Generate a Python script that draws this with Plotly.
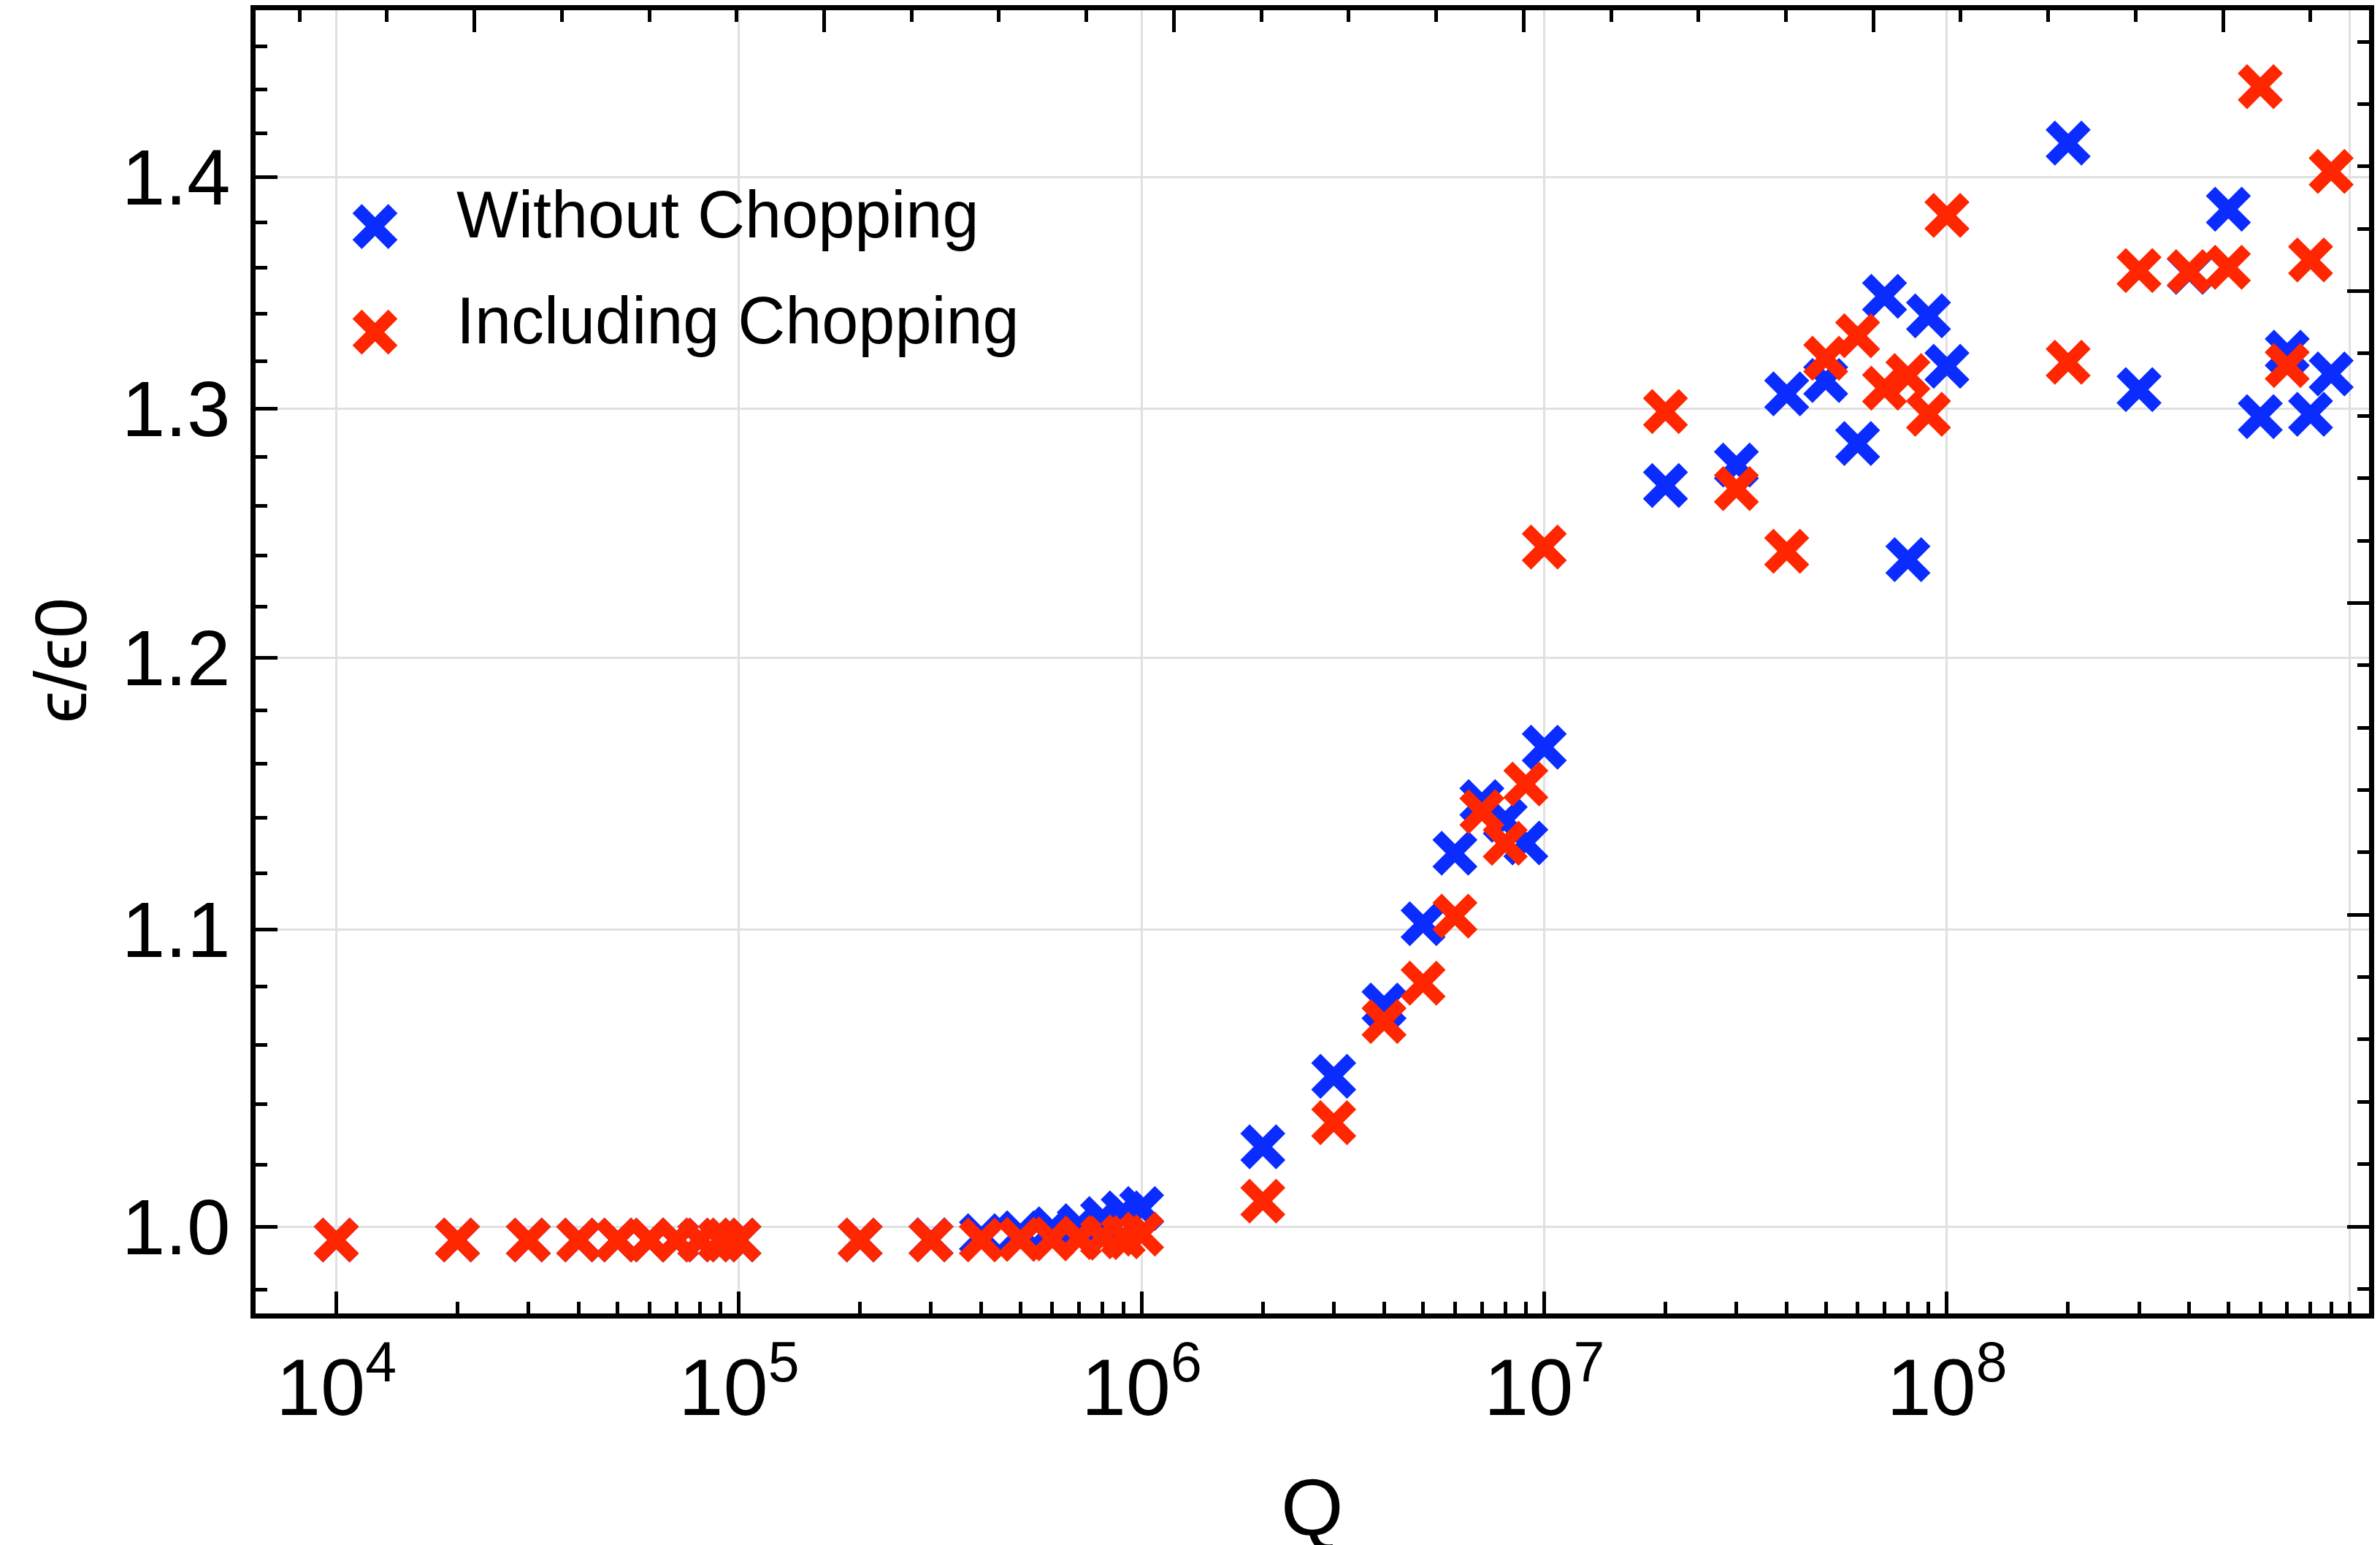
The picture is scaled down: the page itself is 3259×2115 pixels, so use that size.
import math
import plotly.graph_objects as go

# Q values (nine per decade, 1e4 .. 9e8)
q_values = [
    1e4, 2e4, 3e4, 4e4, 5e4, 6e4, 7e4, 8e4, 9e4,
    1e5, 2e5, 3e5, 4e5, 5e5, 6e5, 7e5, 8e5, 9e5,
    1e6, 2e6, 3e6, 4e6, 5e6, 6e6, 7e6, 8e6, 9e6,
    1e7, 2e7, 3e7, 4e7, 5e7, 6e7, 7e7, 8e7, 9e7,
    1e8, 2e8, 3e8, 4e8, 5e8, 6e8, 7e8, 8e8, 9e8,
]

# epsilon / epsilon0 without chopping
eps_without = [
    0.9957, 0.9957, 0.9957, 0.9957, 0.9957, 0.9957, 0.9957, 0.9957, 0.9957,
    0.9957, 0.9957, 0.9958, 0.9971, 0.9980, 0.9993, 1.0003, 1.0026, 1.0044,
    1.0058, 1.0259, 1.0494, 1.0736, 1.1020, 1.1272, 1.1460, 1.1392, 1.1309,
    1.1662, 1.2683, 1.2766, 1.3061, 1.3117, 1.2855, 1.3476, 1.2385, 1.3392,
    1.3177, 1.4155, 1.3079, 1.3580, 1.3858, 1.2966, 1.3237, 1.2976, 1.3145,
]

# epsilon / epsilon0 including chopping
eps_including = [
    0.9957, 0.9957, 0.9957, 0.9957, 0.9957, 0.9957, 0.9957, 0.9957, 0.9957,
    0.9957, 0.9957, 0.9957, 0.9957, 0.9959, 0.9961, 0.9963, 0.9965, 0.9967,
    0.9976, 1.0082, 1.0339, 1.0680, 1.0812, 1.1047, 1.1423, 1.1308, 1.1525,
    1.2435, 1.2987, 1.2670, 1.2418, 1.3211, 1.3307, 1.3085, 1.3138, 1.2976,
    1.3830, 1.3194, 1.3588, 1.3583, 1.3602, 1.4413, 1.3180, 1.3634, 1.4027,
]

series_names = ["Without Chopping", "Including Chopping"]
series_colors = ["#0a2cff", "#ff2600"]

x_tick_vals = [1e4, 1e5, 1e6, 1e7, 1e8]
x_tick_text = ["10<sup>4</sup>", "10<sup>5</sup>", "10<sup>6</sup>",
               "10<sup>7</sup>", "10<sup>8</sup>"]
y_tick_vals = [1.0, 1.1, 1.2, 1.3, 1.4]
y_tick_text = ["1.0", "1.1", "1.2", "1.3", "1.4"]
x_grid_decades = [4, 5, 6, 7, 8, 9]

# axis ranges (log10 units)
x_log_range = [3.7996, 9.0483]
y_log_range = [-0.012097, 0.16941]
LN10 = math.log(10)

FONT = "Liberation Sans, Arial, Helvetica, sans-serif"
W, H = 3259, 2115
M_L, M_R, M_T, M_B = 350, 15, 14, 317
FRAME_W = 7
MAJOR_LEN, MINOR_LEN, TICK_W = 30, 16, 5

x_minor = [m * 10 ** d for d in range(4, 9) for m in range(2, 10)] + [1e9]
y_minor = [round(0.98 + 0.02 * i, 2) for i in range(25)]
y_minor = [v for v in y_minor if v not in y_tick_vals]

marker_common = dict(symbol="x-thin", size=49)
MARKER_LW = 18

fig = go.Figure()

for name, vals, col in zip(series_names, [eps_without, eps_including], series_colors):
    fig.add_trace(go.Scatter(
        x=q_values, y=vals, mode="markers", name=name, showlegend=False,
        marker=dict(color=col, line=dict(color=col, width=MARKER_LW), **marker_common),
        xaxis="x", yaxis="y", cliponaxis=False,
    ))

# legend entries drawn on an overlay axis in fractional plot coordinates
legend_x = 0.0565
legend_y = [0.834, 0.753]
leg_x_val = x_log_range[0] + legend_x * (x_log_range[1] - x_log_range[0])
for name, col, ly in zip(series_names, series_colors, legend_y):
    fig.add_trace(go.Scatter(
        x=[leg_x_val], y=[ly], mode="markers", showlegend=False, hoverinfo="skip",
        marker=dict(color=col, line=dict(color=col, width=MARKER_LW), **marker_common),
        xaxis="x3", yaxis="y3", cliponaxis=False,
    ))
    fig.add_annotation(
        x=0.0945, y=ly + 0.009, xref="paper", yref="paper",
        text=name, showarrow=False, xanchor="left", yanchor="middle",
        font=dict(family=FONT, size=90, color="black"),
    )

# empty trace so the ln-scaled frame axes (top / right) get drawn
fig.add_trace(go.Scatter(x=[], y=[], xaxis="x2", yaxis="y2", showlegend=False))

tick_font = dict(family=FONT, size=107, color="black")

fig.update_layout(
    width=W, height=H,
    margin=dict(l=M_L, r=M_R, t=M_T, b=M_B, pad=0),
    paper_bgcolor="white", plot_bgcolor="white",
    showlegend=False,
    xaxis=dict(
        type="log", range=x_log_range, domain=[0, 1], anchor="y",
        tickmode="array", tickvals=x_tick_vals, ticktext=x_tick_text,
        ticks="inside", ticklen=MAJOR_LEN, tickwidth=TICK_W, tickcolor="black",
        tickfont=dict(family=FONT, size=110, color="black"),
        showgrid=False, zeroline=False,
        showline=True, linecolor="black", linewidth=FRAME_W,
        minor=dict(tickmode="array", tickvals=x_minor, ticks="inside",
                   ticklen=MINOR_LEN, tickwidth=TICK_W, tickcolor="black",
                   showgrid=False),
    ),
    yaxis=dict(
        type="log", range=y_log_range, domain=[0, 1], anchor="x",
        tickmode="array", tickvals=y_tick_vals, ticktext=y_tick_text,
        ticks="inside", ticklen=MAJOR_LEN, tickwidth=TICK_W, tickcolor="black",
        tickfont=tick_font, showgrid=True, gridcolor="#e0e0e0", gridwidth=3,
        zeroline=False, showline=True, linecolor="black", linewidth=FRAME_W,
        ticklabelstandoff=6,
        minor=dict(tickmode="array", tickvals=y_minor, ticks="inside",
                   ticklen=MINOR_LEN, tickwidth=TICK_W, tickcolor="black",
                   showgrid=False),
    ),
    # top / right frame ticks, linear in natural-log units
    xaxis2=dict(
        overlaying="x", side="top", anchor="y", type="linear",
        range=[x_log_range[0] * LN10, x_log_range[1] * LN10],
        tickmode="linear", tick0=0, dtick=2, ticks="inside",
        ticklen=MAJOR_LEN, tickwidth=TICK_W, tickcolor="black",
        showticklabels=False, showgrid=False, zeroline=False,
        showline=True, linecolor="black", linewidth=FRAME_W,
        minor=dict(tick0=0, dtick=0.5, ticks="inside", ticklen=MINOR_LEN,
                   tickwidth=TICK_W, tickcolor="black", showgrid=False),
    ),
    yaxis2=dict(
        overlaying="y", side="right", anchor="x", type="linear",
        range=[y_log_range[0] * LN10, y_log_range[1] * LN10],
        tickmode="linear", tick0=0, dtick=0.1, ticks="inside",
        ticklen=MAJOR_LEN, tickwidth=TICK_W, tickcolor="black",
        showticklabels=False, showgrid=False, zeroline=False,
        showline=True, linecolor="black", linewidth=FRAME_W,
        minor=dict(tick0=0, dtick=0.02, ticks="inside", ticklen=MINOR_LEN,
                   tickwidth=TICK_W, tickcolor="black", showgrid=False),
    ),
    # decade grid lines (log10 units) and legend placement
    xaxis3=dict(
        overlaying="x", anchor="y3", type="linear", range=x_log_range,
        tickmode="array", tickvals=x_grid_decades, showticklabels=False,
        ticks="", showgrid=True, gridcolor="#e0e0e0", gridwidth=3,
        zeroline=False, showline=False,
    ),
    yaxis3=dict(
        overlaying="y", anchor="x3", type="linear", range=[0, 1],
        showticklabels=False, ticks="", showgrid=False, zeroline=False,
        showline=False,
    ),
)

# axis titles
fig.add_annotation(
    x=0.5, y=-0.1485, xref="paper", yref="paper", text="Q", showarrow=False,
    xanchor="center", yanchor="middle",
    font=dict(family=FONT, size=110, color="black"),
)
fig.add_annotation(
    x=-0.0923, y=0.5011, xref="paper", yref="paper", text="ϵ/ϵ0",
    showarrow=False, textangle=-90, xanchor="center", yanchor="middle",
    font=dict(family=FONT, size=100, color="black"),
)

fig.write_html("out.html")
